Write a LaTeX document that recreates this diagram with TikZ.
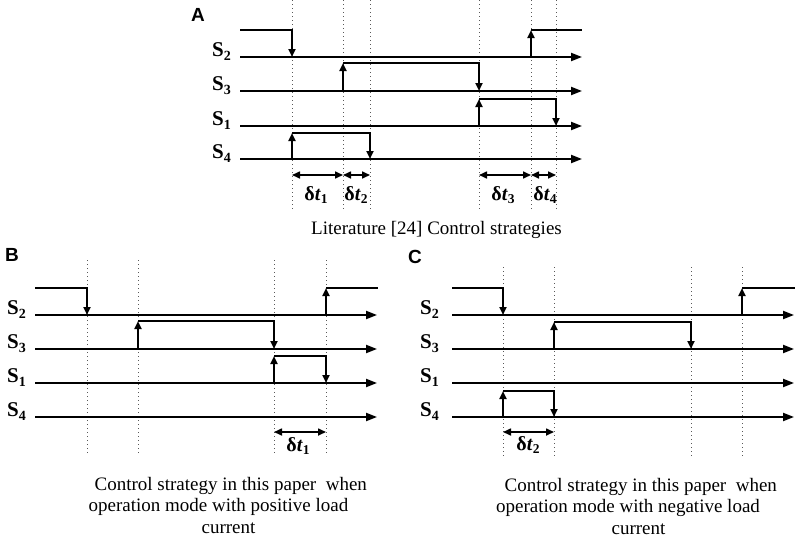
\documentclass[tikz,border=0pt]{standalone}
\usepackage{fontspec}
\setmainfont{Liberation Serif}
\newfontfamily\panelfont{Liberation Sans}
\usetikzlibrary{arrows.meta}
\tikzset{
  sig/.style={line width=2pt},
  sigarr/.style={line width=2pt,-{Triangle[length=8pt,width=7pt]}},
  axisline/.style={line width=2pt,-{Triangle[length=11pt,width=8pt]}},
  guide/.style={gray!70!black,line width=0.9pt,dash pattern=on 1pt off 3pt},
  dtarr/.style={line width=1.6pt,{Triangle[length=8pt,width=7pt]}-{Triangle[length=8pt,width=7pt]}},
  slabel/.style={anchor=base east,inner sep=0pt,font=\fontsize{21}{24}\selectfont\bfseries},
  dtlabel/.style={inner sep=0pt,font=\fontsize{20}{23}\selectfont\bfseries},
  caption/.style={inner sep=0pt,font=\fontsize{19}{22}\selectfont},
  panel/.style={inner sep=0pt,font=\fontsize{19}{22}\selectfont\panelfont\bfseries}
}
\newcommand{\sname}[1]{S\raisebox{-4pt}{\fontsize{14}{14}\selectfont #1}}
\newcommand{\dtname}[1]{δ\textit{t}\raisebox{-3.5pt}{\fontsize{13.5}{13.5}\selectfont #1}}
\begin{document}
\begin{tikzpicture}[x=1pt,y=-1pt]
\useasboundingbox (0,0) rectangle (796,539);
% ================= Panel A =================
\node[panel] (labA) at (198,15) {A};
\foreach \xx/\nm in {292/ga1,343/ga2,370/ga3,479/ga4,531/ga5,556/ga6}{
  \coordinate (\nm t) at (\xx,0);
  \coordinate (\nm b) at (\xx,210);
  \draw[guide] (\nm t) -- (\nm b);
}
\foreach \yy/\nm in {57/aS2,91/aS3,126/aS1,159/aS4}{
  \coordinate (\nm s) at (240,\yy);
  \coordinate (\nm e) at (582,\yy);
  \draw[axisline] (\nm s) -- (\nm e);
}
\node[slabel] (A-S2) at (231,56) {\sname{2}};
\node[slabel] (A-S3) at (231,90) {\sname{3}};
\node[slabel] (A-S1) at (231,125) {\sname{1}};
\node[slabel] (A-S4) at (231,158) {\sname{4}};
% S2
\draw[sigarr] (240,30) -| (292,57);
\draw[sigarr] (531,57) -- (531,30);
\draw[sig] (531,30) -- (582,30);
% S3
\draw[sigarr] (343,91) -- (343,63);
\draw[sigarr] (343,63) -| (479,91);
% S1
\draw[sigarr] (479,126) -- (479,99);
\draw[sigarr] (479,99) -| (556,126);
% S4
\draw[sigarr] (292,159) -- (292,133);
\draw[sigarr] (292,133) -| (370,159);
% delta t
\draw[dtarr] (292,175) -- (343,175);
\draw[dtarr] (343,175) -- (370,175);
\draw[dtarr] (479,175) -- (531,175);
\draw[dtarr] (531,175) -- (556,175);
\node[dtlabel] (A-dt1) at (316,195) {\dtname{1}};
\node[dtlabel] (A-dt2) at (356,195) {\dtname{2}};
\node[dtlabel] (A-dt3) at (503,195) {\dtname{3}};
\node[dtlabel] (A-dt4) at (545,195) {\dtname{4}};
\node[caption] (capA) at (436.5,230) {Literature [24] Control strategies};
% ================= Panel B =================
\node[panel] (labB) at (12,255) {B};
\foreach \xx/\nm in {87/gb1,138/gb2,274/gb3,326/gb4}{
  \coordinate (\nm t) at (\xx,260);
  \coordinate (\nm b) at (\xx,455);
  \draw[guide] (\nm t) -- (\nm b);
}
\foreach \yy/\nm in {315/bS2,349/bS3,383/bS1,417/bS4}{
  \coordinate (\nm s) at (35,\yy);
  \coordinate (\nm e) at (377,\yy);
  \draw[axisline] (\nm s) -- (\nm e);
}
\node[slabel] (B-S2) at (26,314) {\sname{2}};
\node[slabel] (B-S3) at (26,348) {\sname{3}};
\node[slabel] (B-S1) at (26,382) {\sname{1}};
\node[slabel] (B-S4) at (26,416) {\sname{4}};
% S2
\draw[sigarr] (35,288) -| (87,315);
\draw[sigarr] (326,315) -- (326,288);
\draw[sig] (326,288) -- (378,288);
% S3
\draw[sigarr] (138,349) -- (138,321);
\draw[sigarr] (138,321) -| (274,349);
% S1
\draw[sigarr] (274,383) -- (274,356);
\draw[sigarr] (274,356) -| (326,383);
% delta t
\draw[dtarr] (274,432) -- (326,432);
\node[dtlabel] (B-dt1) at (298,446) {\dtname{1}};
\node[caption] (capB1) at (230.8,485.5) {Control strategy in this paper\ \ when};
\node[caption] (capB2) at (218.5,507) {operation mode with positive load};
\node[caption] (capB3) at (228.5,528) {current};
% ================= Panel C =================
\node[panel] (labC) at (415,257) {C};
\foreach \xx/\nm in {503/gc1,554/gc2,691/gc3,742/gc4}{
  \coordinate (\nm t) at (\xx,267);
  \coordinate (\nm b) at (\xx,458);
  \draw[guide] (\nm t) -- (\nm b);
}
\foreach \yy/\nm in {315/cS2,349/cS3,383/cS1,417/cS4}{
  \coordinate (\nm s) at (452,\yy);
  \coordinate (\nm e) at (794,\yy);
  \draw[axisline] (\nm s) -- (\nm e);
}
\node[slabel] (C-S2) at (439,314) {\sname{2}};
\node[slabel] (C-S3) at (439,348) {\sname{3}};
\node[slabel] (C-S1) at (439,382) {\sname{1}};
\node[slabel] (C-S4) at (439,416) {\sname{4}};
% S2
\draw[sigarr] (452,288) -| (503,315);
\draw[sigarr] (742,315) -- (742,288);
\draw[sig] (742,288) -- (795,288);
% S3
\draw[sigarr] (554,349) -- (554,322);
\draw[sigarr] (554,322) -| (691,349);
% S4
\draw[sigarr] (503,417) -- (503,391);
\draw[sigarr] (503,391) -| (554,417);
% delta t
\draw[dtarr] (503,432) -- (554,432);
\node[dtlabel] (C-dt2) at (528,445) {\dtname{2}};
\node[caption] (capC1) at (640.8,486.5) {Control strategy in this paper\ \ when};
\node[caption] (capC2) at (628,508) {operation mode with negative load};
\node[caption] (capC3) at (638.5,529) {current};
\end{tikzpicture}
\end{document}
